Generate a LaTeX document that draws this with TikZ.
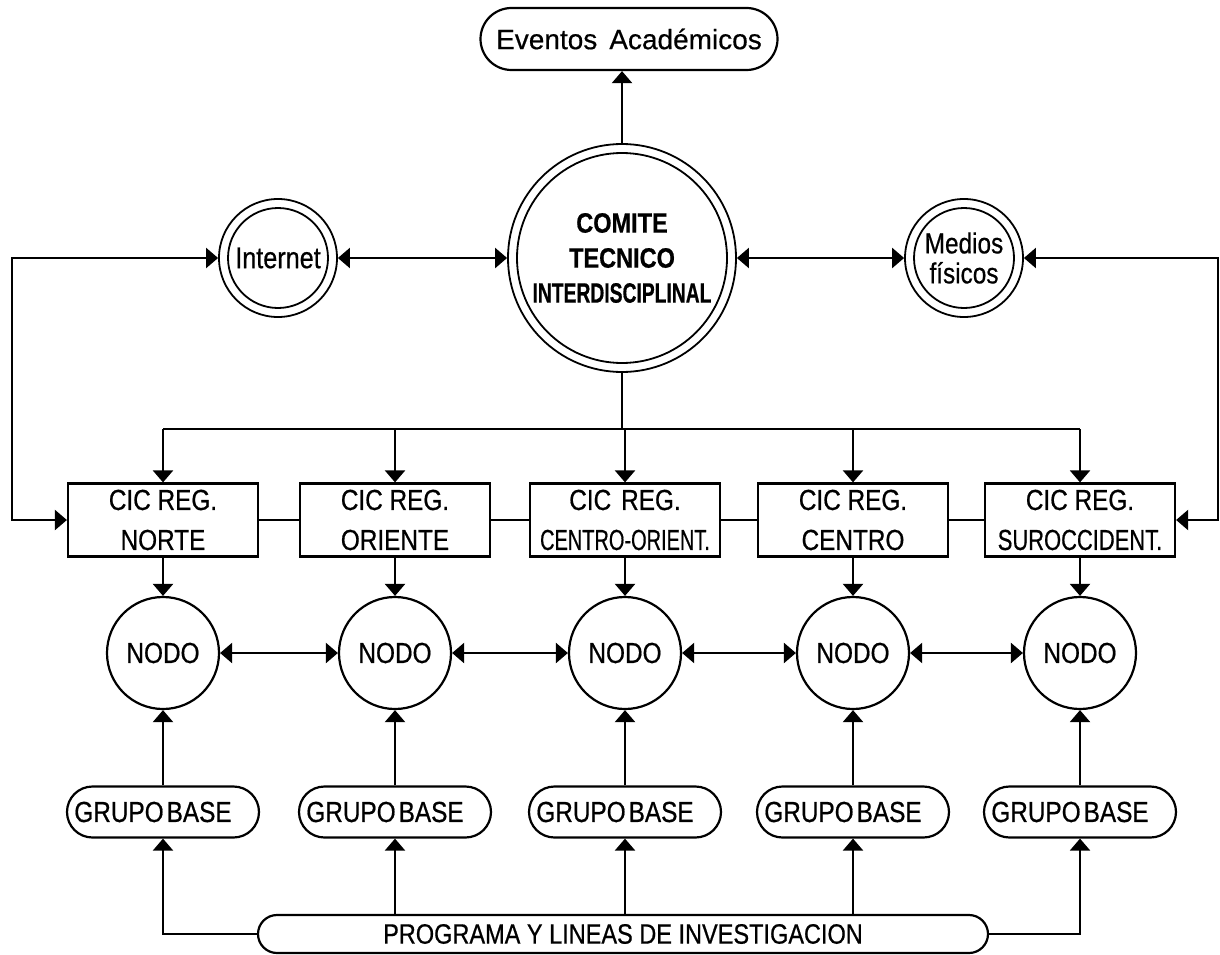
\documentclass[tikz,border=0pt]{standalone}
\usepackage{graphicx}
\usepackage{fontspec}
\setmainfont{Liberation Sans}[FakeBold=0.5]
\newfontfamily\nar[FakeStretch=0.84,FakeBold=0.6]{Liberation Sans}
\usetikzlibrary{arrows.meta,shapes.misc}
\newcommand{\sqx}[2]{\scalebox{#1}[1]{#2}}
\begin{document}
\begin{tikzpicture}[x=1pt,y=-1pt,line width=2.2pt,
  >={Triangle[length=12pt,width=20pt]},
  cic/.style={draw,rectangle,minimum width=190pt,minimum height=73pt,inner sep=0pt,align=center,font=\nar\fontsize{29}{40}\selectfont},
  nodo/.style={draw,circle,minimum size=112pt,inner sep=0pt,font=\nar\fontsize{29}{34}\selectfont},
  grupo/.style={draw,rounded rectangle,minimum width=192pt,minimum height=51pt,inner sep=0pt,font=\nar\fontsize{29}{34}\selectfont},
  dbl/.style={draw,circle,inner sep=0pt,line width=1.8pt,align=center},
  inner/.style={line width=1.8pt}]
\useasboundingbox (0,0) rectangle (1220,955);

% top level
\node[draw,rounded rectangle,minimum width=297pt,minimum height=62pt,inner sep=0pt,font=\fontsize{28}{34}\selectfont] (ev) at (629,39) {Eventos\hspace{12pt}Académicos};
\node[dbl,minimum size=228pt,font=\nar\bfseries\fontsize{28}{35}\selectfont] (com) at (622,258) {COMITE\\TECNICO\\\sqx{0.82}{INTERDISCIPLINAL}};
\draw[inner] (com.center) circle[radius=105];
\node[dbl,minimum size=118pt,font=\nar\fontsize{30}{34}\selectfont] (int) at (278,258) {Internet};
\draw[inner] (int.center) circle[radius=50];
\node[dbl,minimum size=118pt,font=\nar\fontsize{29}{30}\selectfont] (med) at (964,258) {Medios\\físicos};
\draw[inner] (med.center) circle[radius=50];

% regional committees
\node[cic] (c1) at (163,520) {CIC REG.\\NORTE};
\node[cic] (c2) at (395,520) {CIC REG.\\ORIENTE};
\node[cic] (c3) at (625,520) {CIC\hspace{10pt}REG.\\\sqx{0.82}{CENTRO-ORIENT.}};
\node[cic] (c4) at (853,520) {CIC REG.\\CENTRO};
\node[cic] (c5) at (1080,520) {CIC REG.\\\sqx{0.9}{SUROCCIDENT.}};

% nodes
\foreach \i/\x in {1/163,2/395,3/625,4/853,5/1080}{
  \node[nodo] (n\i) at (\x,653) {NODO};
  \node[grupo] (g\i) at (\x,812) {GRUPO\hspace{3pt}BASE\hspace*{20pt}};
}
\node[draw,rounded rectangle,minimum width=730pt,minimum height=38pt,inner sep=0pt,font=\nar\fontsize{28}{34}\selectfont] (pr) at (623,934) {PROGRAMA Y LINEAS DE INVESTIGACION};

\coordinate (L) at (12,0);
\coordinate (R) at (1218,0);
\coordinate (B) at (0,429);

% connectors top
\draw[->] (com.north) -- (com.north |- ev.south);
\draw[<->] (int.east) -- (com.west);
\draw[<->] (com.east) -- (med.west);
\draw[<->] (int.west) -- (int.west -| L) |- (c1.west);
\draw[<->] (med.east) -- (med.east -| R) |- (c5.east);

% bus
\draw (com.south) -- (com.south |- B);
\draw (c1.north |- B) -- (c5.north |- B);
\foreach \i in {1,...,5}{
  \draw[->] (c\i.north |- B) -- (c\i.north);
  \draw[->] (c\i.south) -- (n\i.north);
  \draw[->] (g\i.north) -- (n\i.south);
}
\draw (c1.east) -- (c2.west);
\draw (c2.east) -- (c3.west);
\draw (c3.east) -- (c4.west);
\draw (c4.east) -- (c5.west);
\draw[<->] (n1.east) -- (n2.west);
\draw[<->] (n2.east) -- (n3.west);
\draw[<->] (n3.east) -- (n4.west);
\draw[<->] (n4.east) -- (n5.west);

% programa
\draw[->] (pr.west) -| (g1.south);
\draw[->] (pr.north -| g2.south) -- (g2.south);
\draw[->] (pr.north -| g3.south) -- (g3.south);
\draw[->] (pr.north -| g4.south) -- (g4.south);
\draw[->] (pr.east) -| (g5.south);
\end{tikzpicture}
\end{document}
